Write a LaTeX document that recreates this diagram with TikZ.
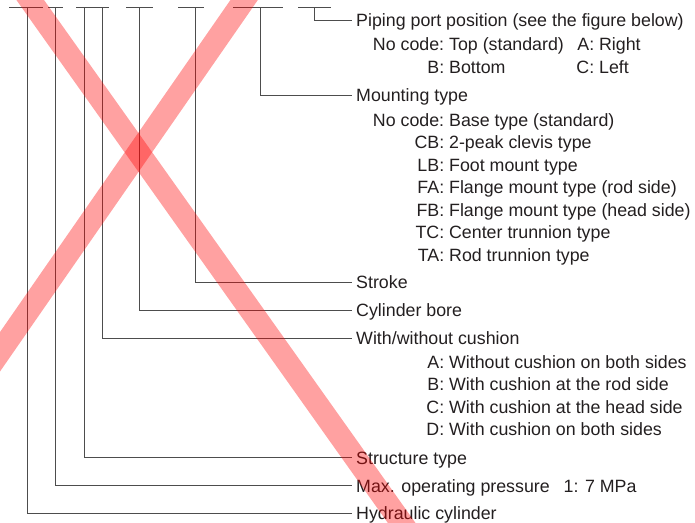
\documentclass[tikz,border=0pt]{standalone}
\usepackage{fontspec}
\setmainfont{Liberation Sans}
\usetikzlibrary{positioning}
\definecolor{txtgray}{HTML}{231F20}
\definecolor{linegray}{HTML}{4D4D4D}
\newcommand{\opt}[2]{\llap{#1:}\ #2}

\begin{document}
\begin{tikzpicture}[x=1pt, y=-1pt,
  every node/.style={font=\fontsize{17.8}{21}\selectfont, text=txtgray},
  lbl/.style={anchor=west, inner xsep=4pt, inner ysep=0pt, text height=17pt, text depth=4pt},
  sub/.style={anchor=west, inner sep=0pt, text height=17pt, text depth=4pt},
  leader/.style={draw=linegray, line width=0.9pt},
  cross/.style={draw=red, line width=22.5pt, opacity=0.37}]
\useasboundingbox (0,0) rectangle (695,522);
% Code boxes
\foreach \a/\b in {9/43, 48/63, 76/109, 126/153, 178/204, 233/283, 298/331}
  \draw[leader] (\a,7) -- (\b,7);
\coordinate (c-hyd) at (27,7);
\coordinate (c-press) at (55,7);
\coordinate (c-struct) at (84,7);
\coordinate (c-cush) at (102,7);
\coordinate (c-bore) at (139,7);
\coordinate (c-stroke) at (195,7);
\coordinate (c-mount) at (260,7);
\coordinate (c-port) at (314,7);
% Piping port
\node[lbl] (port) at (352,20) {Piping port position (see the figure below)};
\node[sub] (port-a) at (444,44) {\opt{No code}{Top (standard)}};
\node[sub] (port-b) at (594,44) {\opt{A}{Right}};
\node[sub] (port-c) at (444,67) {\opt{B}{Bottom}};
\node[sub] (port-d) at (594,67) {\opt{C}{Left}};
% Mounting
\node[lbl] (mount) at (352,95) {Mounting type};
\node[sub] (mount-1) at (444,119.5) {\opt{No code}{Base type (standard)}};
\node[sub] (mount-2) at (444,142) {\opt{CB}{2-peak clevis type}};
\node[sub] (mount-3) at (444,164.5) {\opt{LB}{Foot mount type}};
\node[sub] (mount-4) at (444,187) {\opt{FA}{Flange mount type (rod side)}};
\node[sub] (mount-5) at (444,209.5) {\opt{FB}{Flange mount type (head side)}};
\node[sub] (mount-6) at (444,232) {\opt{TC}{Center trunnion type}};
\node[sub] (mount-7) at (444,254.5) {\opt{TA}{Rod trunnion type}};
% Stroke, bore
\node[lbl] (stroke) at (352,282) {Stroke};
\node[lbl] (bore) at (352,310) {Cylinder bore};
% Cushion
\node[lbl] (cush) at (352,338) {With/without cushion};
\node[sub] (cush-a) at (444,361.5) {\opt{A}{Without cushion on both sides}};
\node[sub] (cush-b) at (444,384) {\opt{B}{With cushion at the rod side}};
\node[sub] (cush-c) at (444,406.5) {\opt{C}{With cushion at the head side}};
\node[sub] (cush-d) at (444,429) {\opt{D}{With cushion on both sides}};
% Structure, pressure, cylinder
\node[lbl] (struct) at (352,457.5) {Structure type};
\node[lbl] (press) at (352,485.5) {Max. operating pressure\enspace\ 1: 7 MPa};
\node[lbl] (hyd) at (352,513) {Hydraulic cylinder};
% Leaders
\draw[leader] (c-port) |- (port.west);
\draw[leader] (c-mount) |- (mount.west);
\draw[leader] (c-stroke) |- (stroke.west);
\draw[leader] (c-bore) |- (bore.west);
\draw[leader] (c-cush) |- (cush.west);
\draw[leader] (c-struct) |- (struct.west);
\draw[leader] (c-press) |- (press.west);
\draw[leader] (c-hyd) |- (hyd.west);
% Red cross
\begin{scope}
\clip (0,0) rectangle (695,522);
\draw[cross] (16,-20) -- (428,560);
\draw[cross] (258,-20) -- (-30,395);
\end{scope}
\end{tikzpicture}
\end{document}
